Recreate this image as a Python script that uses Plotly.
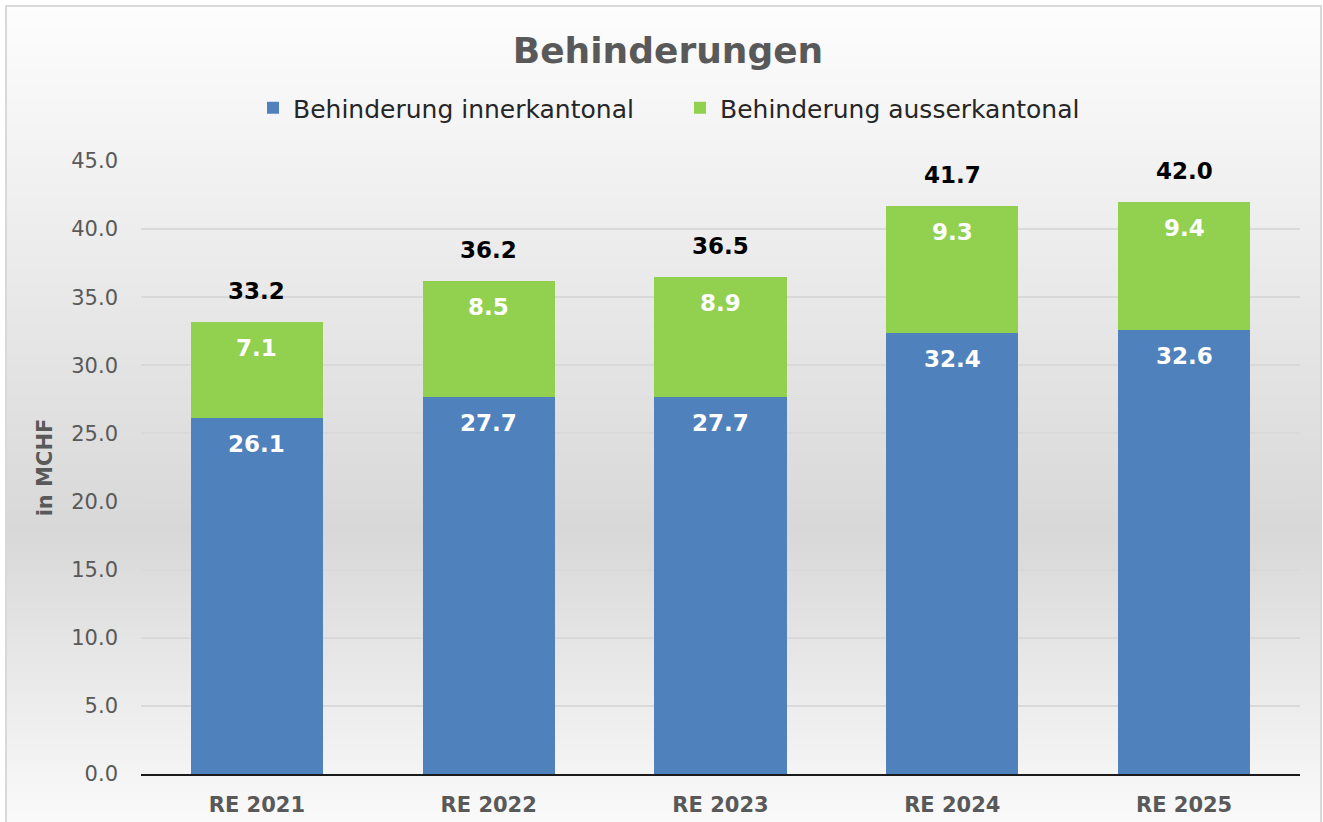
import plotly.graph_objects as go

# ---- data ----
categories = ["RE 2021", "RE 2022", "RE 2023", "RE 2024", "RE 2025"]
innerkantonal = [26.1, 27.7, 27.66, 32.4, 32.6]
ausserkantonal = [7.1, 8.5, 8.86, 9.3, 9.4]
totals = [33.2, 36.2, 36.5, 41.7, 42.0]
y_ticks = [0, 5, 10, 15, 20, 25, 30, 35, 40, 45]

# ---- layout constants ----
W, H = 1323, 822
ML, MR, MT, MB = 141, 23, 161, 48
PW, PH = W - ML - MR, H - MT - MB

BLUE = "#4f81bd"
GREEN = "#92d050"
GRAY_TXT = "#595959"
FONT = "DejaVu Sans"


def px_to_paper_x(px):
    return (px - ML) / PW


def px_to_paper_y(py):
    return (H - MB - py) / PH


def grad_level(py):
    stops = [(6, 253), (530, 216), (822, 250)]
    for (a, ca), (b, cb) in zip(stops[:-1], stops[1:]):
        if a <= py <= b:
            t = (py - a) / (b - a)
            return ca + (cb - ca) * t
    return stops[-1][1]


fig = go.Figure()
fig.add_trace(go.Bar(x=categories, y=innerkantonal, name="Behinderung innerkantonal",
                     marker=dict(color=BLUE, line=dict(width=0)), hoverinfo="skip"))
fig.add_trace(go.Bar(x=categories, y=ausserkantonal, name="Behinderung ausserkantonal",
                     marker=dict(color=GREEN, line=dict(width=0)), hoverinfo="skip"))

annotations = []
for c, vi, va, tot in zip(categories, innerkantonal, ausserkantonal, totals):
    annotations.append(dict(x=c, y=vi, xref="x", yref="y", text=f"{vi:.1f}", showarrow=False,
                            yshift=-26, yanchor="middle",
                            font=dict(family=FONT, size=23, color="white", weight="bold")))
    annotations.append(dict(x=c, y=vi + va, xref="x", yref="y", text=f"{va:.1f}", showarrow=False,
                            yshift=-26, yanchor="middle",
                            font=dict(family=FONT, size=23, color="white", weight="bold")))
    annotations.append(dict(x=c, y=tot, xref="x", yref="y", text=f"{tot:.1f}", showarrow=False,
                            yshift=31, yanchor="middle",
                            font=dict(family=FONT, size=23, color="black", weight="bold")))

# gradient background via thin bands
shapes = []
band = 3
py = 6
x0p, x1p = px_to_paper_x(6), px_to_paper_x(1321)
while py < H:
    py2 = min(py + band, H + 2)
    lv = int(round(grad_level(py + band / 2)))
    col = f"rgb({lv},{lv},{lv})"
    shapes.append(dict(type="rect", xref="paper", yref="paper", x0=x0p, x1=x1p,
                       y0=px_to_paper_y(py2), y1=px_to_paper_y(py), fillcolor=col,
                       line=dict(width=0), layer="below"))
    py = py2
# border of the chart area
shapes.append(dict(type="rect", xref="paper", yref="paper", x0=px_to_paper_x(6), x1=px_to_paper_x(1321),
                   y0=px_to_paper_y(H + 10), y1=px_to_paper_y(6), fillcolor="rgba(0,0,0,0)",
                   line=dict(width=2, color="#d9d9d9"), layer="below"))

fig.update_layout(
    width=W, height=H,
    margin=dict(l=ML, r=MR, t=MT, b=MB, pad=0, autoexpand=False),
    barmode="stack", bargap=0.43,
    paper_bgcolor="white", plot_bgcolor="rgba(0,0,0,0)",
    title=dict(text="Behinderungen", x=668 / W, xref="container", xanchor="center",
               y=1 - 50 / H, yref="container", yanchor="middle",
               font=dict(family=FONT, size=36, color=GRAY_TXT, weight="bold")),
    legend=dict(orientation="h", x=px_to_paper_x(680), xanchor="center",
                y=px_to_paper_y(108), yanchor="middle",
                font=dict(family=FONT, size=25, color="#262626"),
                bgcolor="rgba(0,0,0,0)", itemwidth=30, traceorder="normal",
                entrywidth=382, entrywidthmode="pixels"),
    showlegend=True,
    annotations=annotations,
    shapes=shapes,
    xaxis=dict(showline=True, linecolor="#1a1a1a", linewidth=2, ticks="",
               showgrid=False, ticklabelstandoff=11, automargin=False,
               tickfont=dict(family=FONT, size=21, color=GRAY_TXT, weight="bold")),
    yaxis=dict(range=[0, 45], tickvals=y_ticks, ticktext=[f"{v:.1f}" for v in y_ticks],
               showgrid=True, gridcolor="#d9d9d9", gridwidth=2, zeroline=False,
               showline=False, ticks="", ticklabelstandoff=22, automargin=False,
               tickfont=dict(family=FONT, size=21, color=GRAY_TXT),
               title=dict(text="in MCHF", standoff=12,
                          font=dict(family=FONT, size=21, color=GRAY_TXT, weight="bold"))),
)

fig.write_html("out.html", config={"displayModeBar": False},
               post_script="document.body.style.margin='0';")
